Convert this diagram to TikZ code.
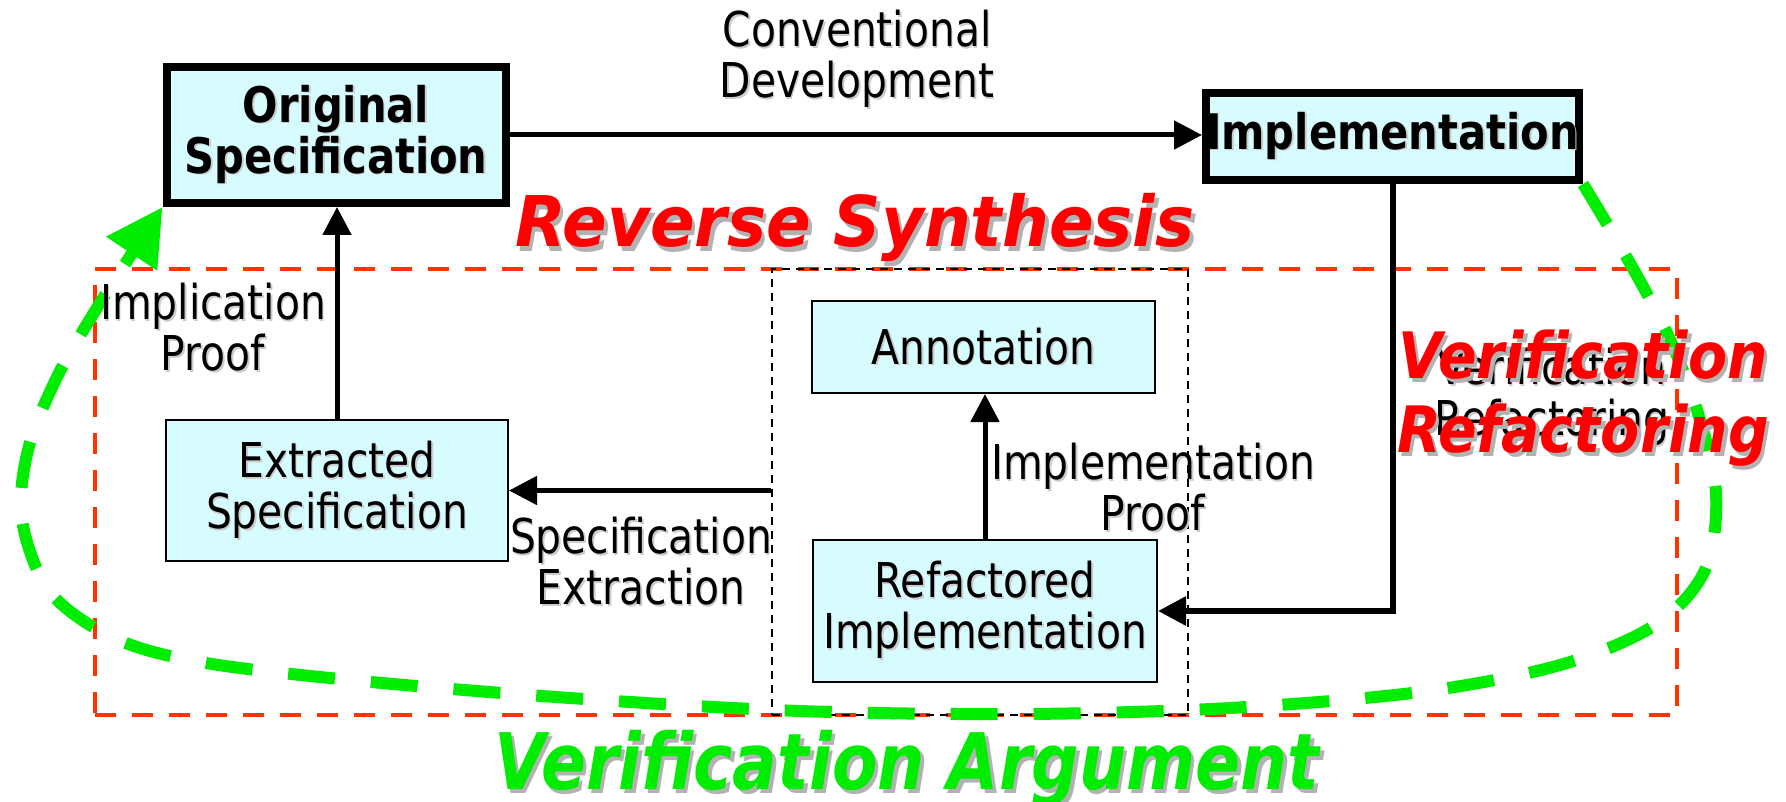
\documentclass[tikz,border=0pt]{standalone}
\usepackage{fontspec}
\setmainfont{DejaVu Sans}[FakeStretch=0.85]
\newfontfamily\titlefont{DejaVu Sans}
\usetikzlibrary{arrows.meta}

\definecolor{boxfill}{RGB}{214,252,255}
\definecolor{titlered}{RGB}{255,0,0}
\definecolor{framered}{RGB}{255,51,0}
\definecolor{loopgreen}{RGB}{0,236,0}

% soft drop shadow behind a piece of text
\newcommand{\shd}[1]{\makebox[0pt][l]{\hspace*{0.8pt}\raisebox{-0.8pt}{\textcolor{black!20}{#1}}}#1}
\newcommand{\tshd}[1]{\makebox[0pt][l]{\hspace*{2pt}\raisebox{-2pt}{\textcolor{black!30}{#1}}}#1}

\begin{document}
\begin{tikzpicture}[x=0.5pt,y=-0.5pt,
  nbox/.style={draw=black, fill=boxfill, line width=1.2pt, inner sep=0pt, align=center,
    font=\fontsize{24pt}{25.5pt}\selectfont},
  nmain/.style={nbox, line width=4pt, font=\fontsize{24.5pt}{25.5pt}\selectfont\bfseries},
  lbl/.style={inner sep=0pt, align=center, font=\fontsize{24pt}{25.5pt}\selectfont},
  arr/.style={line width=2.5pt, -{Triangle[length=14pt,width=14pt]}},
  redframe/.style={draw=framered, line width=2pt, dash pattern=on 10.5pt off 8pt, inner sep=0pt},
  grpframe/.style={draw=black, line width=0.7pt, dash pattern=on 4pt off 3pt, inner sep=0pt},
  greenloop/.style={draw=loopgreen, line width=6pt, dash pattern=on 23.5pt off 18pt,
    -{Triangle[length=28pt,width=29pt]}},
  ttl/.style={inner sep=0pt, align=center, font=\titlefont\bfseries\itshape}
]
\useasboundingbox (0,0) rectangle (1786,802);

% dashed frames
\node[redframe, minimum width=791pt, minimum height=223pt] (rs) at (886,492) {};
\node[grpframe, minimum width=208pt, minimum height=223pt] (grp) at (980,492) {};

% boxes
\node[nmain, minimum width=169.5pt, minimum height=68pt] (orig) at (336,135)
  {\shd{Original}\\\shd{Specification}};
\node[nmain, minimum width=184.5pt, minimum height=43.5pt] (impl) at (1392.5,136.5)
  {\shd{Implementation}};
\node[nbox, minimum width=170.8pt, minimum height=70.3pt] (extr) at (337,490.5)
  {\shd{Extracted}\\\shd{Specification}};
\node[nbox, minimum width=171.3pt, minimum height=45.8pt] (annot) at (983.5,347)
  {\shd{Annotation}};
\node[nbox, minimum width=171.8pt, minimum height=70.8pt] (refac) at (985,611)
  {\shd{Refactored}\\\shd{Implementation}};

% connectors
\draw[arr] (orig.east) -- (orig.east -| impl.west);
\draw[arr] (extr.north) -- (extr.north |- orig.south);
\draw[arr] (extr.east -| grp.west) -- (extr.east);
\draw[arr] (refac.north) -- (refac.north |- annot.south);
\draw[arr, line width=3pt] (impl.south) |- (refac.east);

% verification argument loop
\draw[greenloop] plot[smooth, tension=0.55] coordinates {
  (impl.south east) (1627,258) (1667,333) (1697,410) (1716,493) (1705,570)
  (1655,625) (1560,665) (1420,692) (1230,708) (1025,714) (800,711) (570,698)
  (350,680) (200,662) (114,638) (50,592) (22,520) (28,450) (57,377) (100,303)
  (orig.south west)};

% edge labels
\node[lbl] (convlbl) at (857,60) {\shd{Conventional}\\\shd{Development}};
\node[lbl] (impllbl) at (213,328) {\shd{Implication}\\\shd{Proof}};
\node[lbl] (extrlbl) at (641,562) {\shd{Specification}\\\shd{Extraction}};
\node[lbl] (prooflbl) at (1153,488) {\shd{Implementation}\\\shd{Proof}};
\node[lbl] (vreflbl) at (1552,398) {\shd{Verification}\\\shd{Refactoring}};

% titles
\node[ttl, text=titlered, font=\titlefont\bfseries\itshape\fontsize{35pt}{42pt}\selectfont,
  anchor=base] (rstitle) at (855,247)
  {\scalebox{0.94}[1]{\tshd{Reverse Synthesis}}};
\node[ttl, text=titlered, font=\titlefont\bfseries\itshape\fontsize{32pt}{37pt}\selectfont]
  (vrtitle) at (1583,400)
  {\scalebox{0.89}[1]{\tshd{Verification}}\\\scalebox{0.89}[1]{\tshd{Refactoring}}};
\node[ttl, text=loopgreen, font=\titlefont\bfseries\itshape\fontsize{39pt}{46pt}\selectfont,
  anchor=base] (vatitle) at (907,789)
  {\scalebox{0.85}[1]{\tshd{Verification Argument}}};
\end{tikzpicture}
\end{document}
